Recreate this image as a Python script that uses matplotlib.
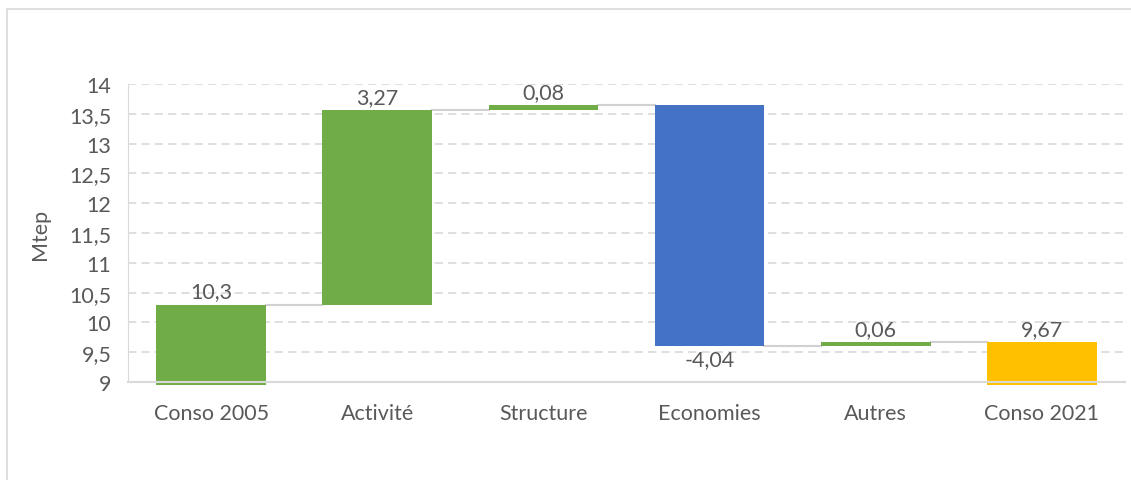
import numpy as np
import matplotlib.pyplot as plt
from matplotlib.patches import Rectangle
from matplotlib.ticker import FuncFormatter

categories = ["Conso 2005", "Activité", "Structure", "Economies", "Autres", "Conso 2021"]
start_value = 10.3
deltas = [3.27, 0.08, -4.04, 0.06]
end_value = 9.67
yticks = [9, 9.5, 10, 10.5, 11, 11.5, 12, 12.5, 13, 13.5, 14]

green = "#70AD47"
blue = "#4472C4"
gold = "#FFC000"
txt = "#595959"
grid = "#D9D9D9"
fs = 15.5

plt.rcParams['font.family'] = ['Lato', 'DejaVu Sans']

fig = plt.figure(figsize=(11.31, 4.81), dpi=100)
ax = fig.add_axes([0.1132, 0.2037, 0.8815, 0.6196])

ymin, ymax = 9, 14
x = np.arange(len(categories))
width = 0.66

# bottoms / tops of each waterfall bar
levels = [start_value]
for d in deltas:
    levels.append(levels[-1] + d)

bottoms = [ymin]
heights = [start_value - ymin]
colors = [green]
for i, d in enumerate(deltas):
    lo = min(levels[i], levels[i + 1])
    bottoms.append(lo)
    heights.append(abs(d))
    colors.append(green if d > 0 else blue)
bottoms.append(ymin)
heights.append(end_value - ymin)
colors.append(gold)

# bars reach a touch below the axis line
pad = 0.05
bottoms_draw = [b - pad if b == ymin else b for b in bottoms]
heights_draw = [h + pad if b == ymin else h for b, h in zip(bottoms, heights)]
ax.bar(x, heights_draw, width, bottom=bottoms_draw, color=colors, zorder=3, clip_on=False)

# connectors between bars
tops = [start_value] + levels[1:] + [end_value]
for i in range(len(categories) - 1):
    ax.plot([x[i] + width / 2, x[i + 1] - width / 2], [tops[i], tops[i]],
            color="#D0D0D0", lw=1.5, zorder=2)

# value labels
labels = [start_value] + deltas + [end_value]
for i, v in enumerate(labels):
    s = ("%g" % v).replace(".", ",")
    if v < 0:
        ax.text(x[i], bottoms[i] - 0.05, s, ha="center", va="top", fontsize=fs, color=txt, zorder=4)
    else:
        ax.text(x[i], bottoms[i] + heights[i] + 0.05, s, ha="center", va="bottom", fontsize=fs,
                color=txt, zorder=4)

ax.set_xlim(-0.5, len(categories) - 0.5)
ax.set_ylim(ymin, ymax)
ax.set_yticks(yticks)
ax.yaxis.set_major_formatter(FuncFormatter(lambda v, p: ("%g" % v).replace(".", ",")))
ax.set_xticks(x)
ax.set_xticklabels(categories)
ax.tick_params(axis="both", length=0, labelsize=fs, colors=txt)
ax.tick_params(axis="x", pad=15)
ax.tick_params(axis="y", pad=12)
ax.yaxis.grid(True, color=grid, linestyle=(0, (5, 3)), lw=1.2, zorder=0)
ax.set_axisbelow(True)
ax.set_ylabel("Mtep", fontsize=fs, color=txt, labelpad=14)

for side in ["top", "right"]:
    ax.spines[side].set_visible(False)
ax.spines["left"].set_color(grid)
ax.spines["bottom"].set_color(grid)
ax.spines["bottom"].set_linewidth(1.5)
ax.spines["bottom"].set_zorder(5)

# outer chart frame
fig.patches.append(Rectangle((7 / 1131, -0.05), 1.1, (481 - 10) / 481 + 0.05,
                             transform=fig.transFigure, fill=False, edgecolor=grid, lw=1.2))

fig.savefig("out.png", dpi=100)
